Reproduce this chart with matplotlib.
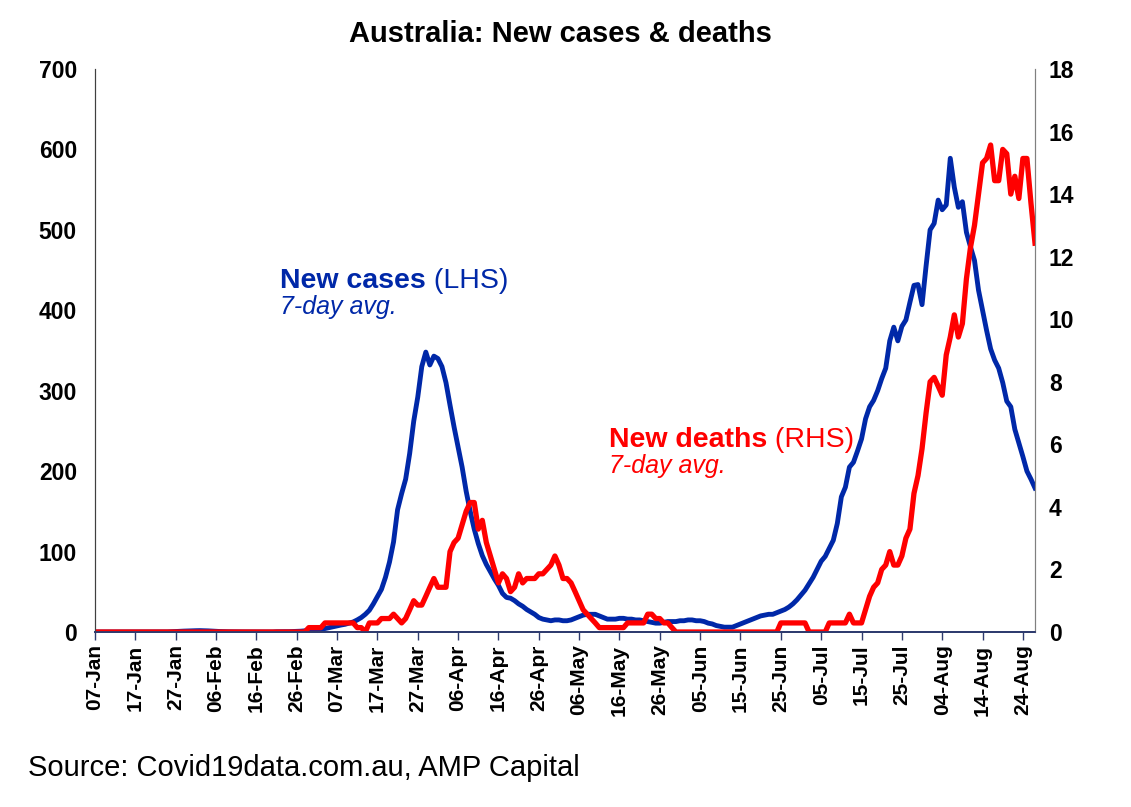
import matplotlib
matplotlib.use("Agg")
import matplotlib.pyplot as plt
import pandas as pd

# daily 7-day averages, 07-Jan to 27-Aug 2020
cases_jan = [0, 0, 0, 0, 0, 0, 0, 0, 0, 0, 0, 0, 0, 0, 0, 0, 0, 0,
             0.1, 0.3, 0.6, 0.9, 1.1, 1.3, 1.4]
cases_feb = [1.6, 1.7, 1.6, 1.4, 1.1, 0.9, 0.6, 0.4, 0.3, 0.3, 0.2, 0.1, 0.1, 0.1, 0.1,
             0.1, 0, 0, 0, 0, 0.3, 0.4, 0.4, 0.4, 0.6, 0.7, 1.0, 1.4, 1.9]
cases_mar = [2.4, 3.0, 3.6, 4.3, 5.4, 6.6, 7.6, 8.7, 9.6, 11, 12.5, 15, 18, 22, 27,
             35, 44, 53, 68, 87, 112, 152, 172, 190, 222, 262, 292, 330, 348, 332, 343]
cases_apr = [340, 330, 310, 282, 255, 230, 205, 175, 150, 128, 110, 95, 84, 75, 66,
             58, 48, 43, 42, 39, 35, 32, 28, 25, 22, 18, 16, 15, 14, 15]
cases_may = [15, 14, 14, 15, 17, 19, 21, 22, 22, 22, 20, 18, 16, 16, 16, 17,
             17, 16, 16, 15, 15, 14, 13, 12, 11, 11, 12, 13, 13, 13, 14]
cases_jun = [14, 15, 15, 14, 14, 13, 11, 10, 8, 7, 6, 6, 6, 8, 10,
             12, 14, 16, 18, 20, 21, 22, 22, 24, 26, 28, 31, 35, 40, 46]
cases_jul = [52, 60, 68, 78, 88, 94, 104, 114, 135, 168, 180, 205, 211, 225, 240, 265,
             280, 288, 300, 315, 328, 362, 379, 362, 380, 388, 410, 431, 432, 407, 455]
cases_aug = [500, 508, 537, 525, 531, 589, 553, 528, 535, 497, 479, 462, 425, 400,
             375, 352, 338, 328, 310, 287, 280, 252, 235, 218, 200, 190, 179]

deaths_jan = [0, 0, 0, 0, 0, 0, 0, 0, 0, 0, 0, 0, 0, 0, 0, 0, 0, 0, 0, 0, 0, 0, 0, 0, 0]
deaths_feb = [0, 0, 0, 0, 0, 0, 0, 0, 0, 0, 0, 0, 0, 0, 0, 0, 0, 0, 0, 0, 0, 0, 0, 0,
              0, 0, 0, 0, 0.14]
deaths_mar = [0.14, 0.14, 0.14, 0.29, 0.29, 0.29, 0.29, 0.29, 0.29, 0.29, 0.29, 0.14,
              0.14, 0, 0.29, 0.29, 0.29, 0.43, 0.43, 0.43, 0.57, 0.43, 0.29, 0.43,
              0.71, 1.0, 0.86, 0.86, 1.14, 1.43, 1.71]
deaths_apr = [1.43, 1.43, 1.43, 2.57, 2.86, 3.0, 3.43, 3.86, 4.14, 4.14, 3.29, 3.57,
              2.86, 2.43, 2.0, 1.57, 1.86, 1.71, 1.29, 1.43, 1.86, 1.57, 1.71, 1.71,
              1.71, 1.86, 1.86, 2.0, 2.14, 2.43]
deaths_may = [2.14, 1.71, 1.71, 1.57, 1.29, 1.0, 0.71, 0.57, 0.43, 0.29, 0.14, 0.14,
              0.14, 0.14, 0.14, 0.14, 0.14, 0.29, 0.29, 0.29, 0.29, 0.29, 0.57, 0.57,
              0.43, 0.43, 0.29, 0.29, 0.14, 0, 0]
deaths_jun = [0, 0, 0, 0, 0, 0, 0, 0, 0, 0, 0, 0, 0, 0, 0, 0, 0, 0, 0, 0, 0, 0, 0, 0,
              0.29, 0.29, 0.29, 0.29, 0.29, 0.29]
deaths_jul = [0.29, 0, 0, 0, 0, 0, 0.29, 0.29, 0.29, 0.29, 0.29, 0.57, 0.29, 0.29,
              0.29, 0.71, 1.14, 1.43, 1.57, 2.0, 2.14, 2.57, 2.14, 2.14, 2.43, 3.0,
              3.29, 4.43, 5.0, 5.86, 7.0]
deaths_aug = [8.0, 8.14, 7.86, 7.57, 8.86, 9.43, 10.14, 9.43, 9.86, 11.29, 12.29, 13.0,
              14.0, 15.0, 15.14, 15.57, 14.43, 14.43, 15.43, 15.29, 14.0, 14.57, 13.86,
              15.14, 15.14, 13.71, 12.43]

cases = (cases_jan + cases_feb + cases_mar + cases_apr + cases_may + cases_jun
         + cases_jul + cases_aug)
deaths = (deaths_jan + deaths_feb + deaths_mar + deaths_apr + deaths_may + deaths_jun
          + deaths_jul + deaths_aug)
dates = pd.date_range("2020-01-07", periods=len(cases), freq="D")

BLUE = "#0028A8"
RED = "#FF0000"
FONT = "Liberation Sans"
W, H = 1131, 807

plt.rcParams["font.family"] = [FONT, "DejaVu Sans"]

fig = plt.figure(figsize=(W / 100, H / 100), dpi=100)
ax = fig.add_axes([95 / W, 1 - 632 / H, (1035 - 95) / W, (632 - 69) / H])
ax2 = ax.twinx()

ax.plot(dates, cases, color=BLUE, lw=3.5, solid_joinstyle="round")
ax2.plot(dates, deaths, color=RED, lw=3.8, solid_joinstyle="round")

ax.set_xlim(dates[0], dates[-1])
ax.set_ylim(0, 700)
ax2.set_ylim(0, 18)
ax.set_yticks(range(0, 701, 100))
ax2.set_yticks(range(0, 19, 2))

ax.set_xticks(dates[::10])
ax.set_xticklabels([d.strftime("%d-%b") for d in dates[::10]], rotation=90,
                   fontsize=15, fontweight="bold")
ax.tick_params(axis="x", direction="out", length=6, width=1, color="#2E3B6E", pad=3)
ax.tick_params(axis="y", length=0, pad=13, labelsize=16.5)
ax2.tick_params(axis="y", length=0, pad=10, labelsize=16.5)
for lab in ax.get_yticklabels() + ax2.get_yticklabels():
    lab.set_fontweight("bold")

for a in (ax, ax2):
    a.spines["top"].set_visible(False)
    a.spines["bottom"].set_color("#2E3B6E")
    a.spines["bottom"].set_linewidth(1.3)
    a.spines["left"].set_color("#404040")
    a.spines["right"].set_color("#808080")

fig.text(560 / W, 1 - 34 / H, "Australia: New cases & deaths", ha="center", va="center",
         fontsize=21, fontweight="bold")

t1 = fig.text(280 / W, 1 - 288 / H, "New cases", color=BLUE, fontsize=20.5,
              fontweight="bold", ha="left", va="baseline")
ax.annotate(" (LHS)", xy=(1, 0), xycoords=t1, va="bottom", ha="left",
            color=BLUE, fontsize=20.5)
fig.text(280 / W, 1 - 314 / H, "7-day avg.", color=BLUE, fontsize=18,
         style="italic", ha="left", va="baseline")

t2 = fig.text(609 / W, 1 - 447 / H, "New deaths", color=RED, fontsize=20.5,
              fontweight="bold", ha="left", va="baseline")
ax.annotate(" (RHS)", xy=(1, 0), xycoords=t2, va="bottom", ha="left",
            color=RED, fontsize=20.5)
fig.text(609 / W, 1 - 473 / H, "7-day avg.", color=RED, fontsize=18,
         style="italic", ha="left", va="baseline")

fig.text(28 / W, 1 - 768 / H, "Source: Covid19data.com.au, AMP Capital", ha="left",
         va="center", fontsize=21)

fig.savefig("out.png", dpi=100)
